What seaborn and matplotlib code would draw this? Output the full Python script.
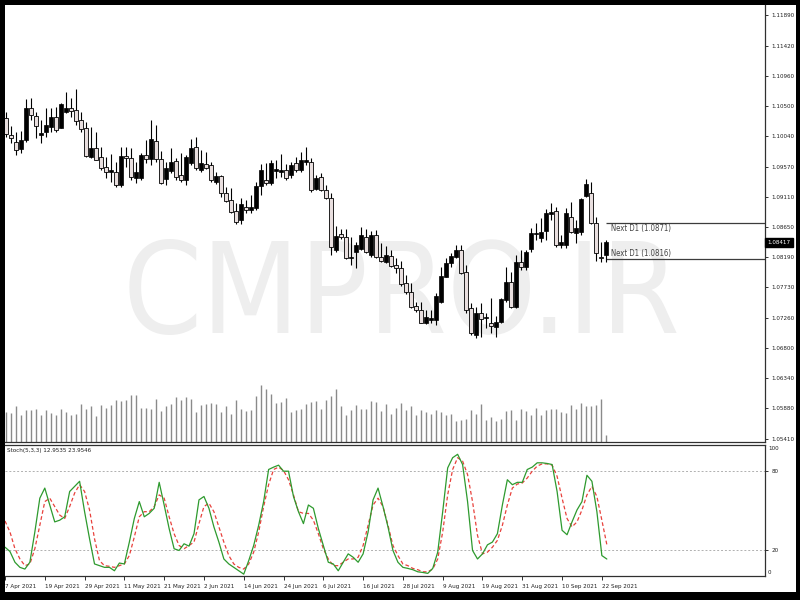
import numpy as np
import pandas as pd
import matplotlib
matplotlib.use("Agg")
import matplotlib.pyplot as plt
import matplotlib.transforms as mtransforms
from matplotlib import font_manager as fm
from matplotlib.patches import Rectangle
import seaborn as sns

# ---------------- data ----------------
opens = [1.1053,1.1032,1.1006,1.0995,1.0984,1.0998,1.1047,1.1035,1.1006,1.1010,
         1.1018,1.1033,1.1016,1.1041,1.1047,1.1044,1.1029,1.1016,1.0972,1.0986,
         1.0972,1.0957,1.0949,1.0949,1.0929,1.0974,1.0971,1.0940,1.0940,1.0975,
         1.0969,1.0996,1.0969,1.0938,1.0951,1.0966,1.0945,1.0937,1.0963,1.0987,
         1.0952,1.0961,1.0960,1.0934,1.0943,1.0917,1.0906,1.0890,1.0876,1.0896,
         1.0891,1.0894,1.0928,1.0937,1.0932,1.0951,1.0949,1.0952,1.0945,1.0963,
         1.0952,1.0964,1.0964,1.0923,1.0941,1.0922,1.0909,1.0830,1.0854,1.0850,
         1.0818,1.0827,1.0831,1.0850,1.0822,1.0853,1.0819,1.0812,1.0821,1.0807,
         1.0802,1.0779,1.0766,1.0744,1.0738,1.0718,1.0723,1.0723,1.0751,1.0789,
         1.0810,1.0819,1.0830,1.0796,1.0741,1.0700,1.0734,1.0726,1.0718,1.0712,
         1.0720,1.0754,1.0781,1.0743,1.0812,1.0804,1.0831,1.0854,1.0848,1.0859,
         1.0885,1.0890,1.0838,1.0838,1.0880,1.0856,1.0857,1.0912,1.0917,1.0871,
         1.0819,1.0822]
highs = [1.1059,1.1041,1.1019,1.1010,1.1012,1.1061,1.1062,1.1041,1.1029,1.1047,
         1.1047,1.1048,1.1055,1.1071,1.1062,1.1076,1.1041,1.1026,1.1018,1.1010,
         1.0987,1.0972,1.0977,1.0964,1.0987,1.0987,1.0986,1.0964,1.0978,1.0998,
         1.1029,1.1021,1.0981,1.0964,1.0986,1.0971,1.0978,1.0975,1.1000,1.1003,
         1.0983,1.0980,1.0964,1.0949,1.0945,1.0926,1.0925,1.0902,1.0909,1.0906,
         1.0914,1.0934,1.0961,1.0963,1.0967,1.0967,1.0977,1.0961,1.0964,1.0972,
         1.0980,1.0987,1.0971,1.0945,1.0948,1.0929,1.0917,1.0867,1.0862,1.0862,
         1.0850,1.0842,1.0865,1.0862,1.0859,1.0861,1.0841,1.0836,1.0830,1.0818,
         1.0813,1.0792,1.0779,1.0751,1.0751,1.0738,1.0738,1.0764,1.0804,1.0818,
         1.0825,1.0838,1.0838,1.0807,1.0749,1.0743,1.0749,1.0734,1.0757,1.0729,
         1.0757,1.0804,1.0796,1.0822,1.0830,1.0830,1.0864,1.0871,1.0879,1.0893,
         1.0902,1.0896,1.0853,1.0894,1.0903,1.0876,1.0909,1.0938,1.0934,1.0880,
         1.0842,1.0845]
lows = [1.1029,1.1003,1.0993,1.0975,1.0978,1.0995,1.1029,1.1001,1.0993,1.1003,
        1.1010,1.1010,1.1016,1.1039,1.1033,1.1021,1.1010,1.0972,1.0971,1.0967,
        1.0952,1.0940,1.0934,1.0926,1.0926,1.0957,1.0937,1.0932,1.0937,1.0963,
        1.0960,1.0964,1.0931,1.0929,1.0948,1.0937,1.0934,1.0929,1.0960,1.0952,
        1.0949,1.0954,1.0934,1.0931,1.0911,1.0903,1.0887,1.0870,1.0870,1.0887,
        1.0887,1.0891,1.0914,1.0929,1.0929,1.0940,1.0941,1.0937,1.0940,1.0949,
        1.0949,1.0960,1.0919,1.0922,1.0920,1.0908,1.0822,1.0827,1.0847,1.0816,
        1.0807,1.0802,1.0830,1.0825,1.0819,1.0818,1.0812,1.0810,1.0804,1.0795,
        1.0775,1.0763,1.0741,1.0735,1.0718,1.0717,1.0718,1.0715,1.0749,1.0789,
        1.0804,1.0818,1.0793,1.0734,1.0700,1.0695,1.0697,1.0711,1.0703,1.0697,
        1.0718,1.0751,1.0741,1.0741,1.0799,1.0799,1.0827,1.0845,1.0842,1.0845,
        1.0876,1.0835,1.0833,1.0833,1.0856,1.0841,1.0853,1.0911,1.0870,1.0813,
        1.0812,1.0812]
closes = [1.1032,1.1007,1.1001,1.0983,1.0998,1.1047,1.1036,1.1019,1.1009,1.1021,
          1.1033,1.1013,1.1053,1.1047,1.1042,1.1027,1.1015,1.0974,1.0986,1.0967,
          1.0955,1.0949,1.0952,1.0929,1.0974,1.0971,1.0941,1.0949,1.0975,1.0969,
          1.1000,1.0969,1.0932,1.0955,1.0964,1.0941,1.0937,1.0972,1.0986,1.0955,
          1.0963,1.0955,1.0937,1.0943,1.0917,1.0905,1.0888,1.0873,1.0900,1.0891,
          1.0896,1.0928,1.0952,1.0932,1.0963,1.0954,1.0952,1.0940,1.0960,1.0952,
          1.0967,1.0967,1.0922,1.0940,1.0922,1.0909,1.0835,1.0851,1.0850,1.0818,
          1.0819,1.0838,1.0853,1.0827,1.0853,1.0819,1.0813,1.0822,1.0805,1.0802,
          1.0778,1.0766,1.0743,1.0738,1.0718,1.0728,1.0726,1.0760,1.0790,1.0810,
          1.0821,1.0830,1.0795,1.0738,1.0703,1.0734,1.0725,1.0728,1.0714,1.0720,
          1.0755,1.0781,1.0743,1.0812,1.0804,1.0827,1.0856,1.0856,1.0857,1.0887,
          1.0888,1.0838,1.0842,1.0887,1.0857,1.0864,1.0908,1.0931,1.0871,1.0825,
          1.0818,1.08417]
volumes = [33, 30, 29, 35.6, 27, 31.6, 31.6, 33, 27, 31.6,
           29, 27, 33, 29.7, 27, 28, 38.3, 33, 35.6, 26,
           37.3, 34, 37.3, 41.6, 40.6, 41.6, 46.6, 47.3, 34.3, 34.3,
           33.3, 43, 30.6, 35.6, 38.3, 45, 41.6, 45, 43, 30,
           37.3, 38.3, 39, 38.3, 30, 36.3, 28.3, 41.6, 33, 30.6,
           31.6, 45.6, 56.6, 53, 48.3, 39, 40, 44, 30, 31.6,
           33.3, 38.3, 40, 40.6, 33, 41.6, 45.6, 53, 36.3, 27,
           31.6, 37.3, 33, 33, 40.6, 39.6, 30.6, 38.3, 28.3, 34,
           39, 32.3, 35.6, 27, 31.6, 30, 28.3, 31.6, 30, 27,
           28.3, 20.6, 21.6, 23.3, 31.6, 28.3, 38.3, 21.6, 25, 20.6,
           23.3, 30.6, 31.6, 21.6, 33.3, 30.6, 27, 34.3, 27, 31.6,
           33, 33.3, 30, 29, 37.3, 33, 39, 35.6, 35.6, 37.3,
           43, 7.3]
stoch_k = [22.0, 18.7, 10.5, 6.6, 5.3, 10.5, 33.6, 59.4, 67.1, 54.2,
           41.3, 42.6, 45.2, 64.5, 68.4, 72.3, 49.1, 28.4, 9.2, 7.9,
           6.6, 6.6, 4.0, 9.9, 9.2, 25.9, 43.9, 56.8, 45.2, 47.8,
           51.7, 71.5, 54.2, 36.2, 20.8, 19.5, 24.6, 22.8, 32.3, 58.1,
           60.7, 51.7, 37.5, 25.9, 13.0, 9.2, 6.6, 4.0, 1.4, 11.7,
           23.3, 38.7, 56.8, 81.3, 83.1, 84.6, 80.0, 80.0, 60.7, 49.1,
           40.0, 54.2, 51.7, 36.2, 23.3, 10.5, 9.2, 4.0, 10.5, 16.9,
           14.3, 10.5, 16.9, 33.6, 58.1, 67.1, 53.0, 37.5, 19.5, 10.5,
           6.6, 5.8, 4.8, 3.2, 2.7, 2.0, 5.8, 18.2, 49.1, 82.5,
           90.3, 92.9, 85.1, 56.8, 19.5, 13.0, 16.9, 23.8, 25.9, 32.3,
           54.2, 73.5, 69.7, 71.5, 71.5, 81.3, 83.1, 86.4, 86.4, 85.9,
           85.1, 64.5, 34.9, 31.5, 41.3, 50.4, 56.8, 76.9, 72.3, 49.1,
           15.6, 12.9535]
stoch_d = [42.0, 33.6, 20.8, 13.0, 7.9, 9.2, 20.8, 38.7, 56.8, 59.4,
           53.0, 46.5, 43.9, 53.0, 63.3, 69.7, 64.5, 50.4, 28.4, 11.7,
           7.9, 7.4, 6.6, 7.9, 9.2, 15.6, 29.8, 45.2, 49.1, 49.1,
           53.0, 61.9, 59.4, 45.2, 32.3, 23.3, 20.8, 23.3, 25.9, 40.0,
           53.0, 55.6, 49.1, 37.5, 25.9, 15.6, 9.2, 6.6, 5.3, 9.2,
           18.2, 33.6, 53.0, 69.7, 81.3, 83.1, 80.5, 73.5, 61.9, 49.1,
           47.8, 47.8, 42.6, 32.3, 20.8, 13.0, 7.9, 7.9, 10.5, 13.0,
           13.0, 14.3, 23.3, 38.7, 54.2, 59.4, 53.0, 38.7, 23.3, 15.6,
           9.2, 7.9, 5.8, 4.8, 3.2, 3.2, 5.3, 13.0, 33.6, 61.9,
           81.3, 90.3, 87.7, 77.4, 56.8, 31.0, 16.9, 18.2, 22.0, 27.2,
           38.7, 54.2, 67.1, 70.2, 71.0, 74.8, 80.0, 83.9, 85.6, 85.6,
           84.6, 76.1, 59.4, 43.9, 37.5, 41.3, 50.4, 61.9, 68.4, 60.7,
           42.6, 23.9546]
date_labels = ["7 Apr 2021", "19 Apr 2021", "29 Apr 2021", "11 May 2021", "21 May 2021",
               "2 Jun 2021", "14 Jun 2021", "24 Jun 2021", "6 Jul 2021", "16 Jul 2021",
               "28 Jul 2021", "9 Aug 2021", "19 Aug 2021", "31 Aug 2021", "10 Sep 2021",
               "22 Sep 2021"]
date_bar_index = [0, 8, 16, 24, 32, 40, 48, 56, 64, 72, 80, 88, 96, 104, 112, 120]
price_ticks = [1.11890, 1.11420, 1.10960, 1.10500, 1.10040, 1.09570, 1.09110, 1.08650,
               1.08190, 1.07730, 1.07260, 1.06800, 1.06340, 1.05880, 1.05410]
next_d1_levels = [1.0871, 1.0816]
current_price = 1.08417
stoch_levels = [80, 20]
stoch_title = "Stoch(5,3,3) 12.9535 23.9546"
watermark = "CMPRO.IR"

# ---------------- fonts ----------------
sns.set_theme(style="white")
plt.rcParams["font.family"] = ["DejaVu Sans"]
cond_path = None
for f in fm.fontManager.ttflist:
    if f.name == "Liberation Sans Narrow" and f.style == "normal" and f.weight in (400, "normal", "regular"):
        cond_path = f.fname
        break
if cond_path is None:
    for f in fm.fontManager.ttflist:
        if (str(f.stretch) in ("condensed", "semi-condensed") or "Condensed" in f.name) \
                and f.style == "normal" and f.weight in (400, "normal", "regular"):
            cond_path = f.fname
            break


def fp(size):
    if cond_path is not None:
        return fm.FontProperties(fname=cond_path, size=size)
    return fm.FontProperties(family=["DejaVu Sans"], size=size * 0.9)


small_fp = fp(4.5)
nd_fp = fp(5.6)
mark_fp = fp(91)

W, H = 800, 600
fig = plt.figure(figsize=(8, 6), dpi=100, facecolor="black")
bg = Rectangle((5 / W, 8 / H), 791 / W, 587 / H, transform=fig.transFigure,
               facecolor="white", edgecolor="none", zorder=-10)
fig.patches.append(bg)

XL = 0.8
XR = XL + 152
axv = fig.add_axes([5 / W, 158 / H, 760 / W, 437 / H], zorder=1)
ax1 = fig.add_axes([5 / W, 158 / H, 760 / W, 437 / H], zorder=2)
ax2 = fig.add_axes([5 / W, 24 / H, 760 / W, 131 / H], zorder=2)
for ax in (ax1, ax2, axv):
    ax.set_facecolor("none")
    ax.set_xlim(XL, XR)
    for s in ("left", "top"):
        ax.spines[s].set_visible(False)
    for s in ("right", "bottom"):
        ax.spines[s].set_color("#303030")
        ax.spines[s].set_linewidth(0.9)
ax2.spines["top"].set_visible(True)
ax2.spines["top"].set_color("#303030")
ax2.spines["top"].set_linewidth(0.9)

df = pd.DataFrame({"bar": np.arange(len(opens)), "open": opens, "high": highs,
                   "low": lows, "close": closes, "volume": volumes,
                   "k": stoch_k, "d": stoch_d})

# watermark + volume (under the candles)
axv.set_ylim(0, 437)
axv.text(0.522, 0.33, watermark, transform=axv.transAxes, ha="center", va="center",
         fontproperties=mark_fp, color="#eeeeee", zorder=0)
axv.vlines(df["bar"], 0, df["volume"], color="#8a8a8a", linewidth=1.0, zorder=1)
axv.set_xticks([])
axv.set_yticks([])
for s in axv.spines.values():
    s.set_visible(False)

# price panel
y_top = 1.1189 + 10 * 0.0001528
y_bot = 1.1189 - 427 * 0.0001528
ax1.set_ylim(y_bot, y_top)
ax1.vlines(df["bar"], df["low"], df["high"], color="black", linewidth=0.8, zorder=3)
up = df["close"] >= df["open"]
body_lo = np.minimum(df["open"], df["close"])
body_h = np.maximum(np.abs(df["close"] - df["open"]), 0.00003)
ax1.bar(df["bar"][up], body_h[up], bottom=body_lo[up], width=0.62, color="black",
        edgecolor="black", linewidth=0.5, zorder=4)
ax1.bar(df["bar"][~up], body_h[~up], bottom=body_lo[~up], width=0.62, color="#e9dfdf",
        edgecolor="black", linewidth=0.6, zorder=4)

# Next D1 levels
for lvl in next_d1_levels:
    ax1.hlines(lvl, 121, XR, color="#3c3c3c", linewidth=0.9, zorder=2)
ax1.text(122, next_d1_levels[0] - 0.00016, f"Next D1 ({next_d1_levels[0]:.4f})",
         fontproperties=nd_fp, color="#444444", va="top", ha="left")
ax1.text(122, next_d1_levels[1] + 0.00016, f"Next D1 ({next_d1_levels[1]:.4f})",
         fontproperties=nd_fp, color="#444444", va="bottom", ha="left")

ax1.yaxis.tick_right()
ax1.set_yticks(price_ticks)
ax1.set_yticklabels([f"{p:.5f}" for p in price_ticks])
ax1.tick_params(axis="y", right=True, direction="out", length=2.5, width=0.7, color="#303030",
                pad=2, labelcolor="#202020")
for lab in ax1.get_yticklabels():
    lab.set_fontproperties(small_fp)
ax1.set_xticks([])
trans1 = mtransforms.blended_transform_factory(ax1.transAxes, ax1.transData)
ax1.text(1.003, current_price, f"{current_price:.5f}", transform=trans1,
         fontproperties=small_fp, color="white", va="center", ha="left", zorder=6,
         bbox=dict(boxstyle="square,pad=0.35", facecolor="black", edgecolor="black"))

# stochastic panel
ax2.set_ylim(0, 100)
for lvl in stoch_levels:
    ax2.axhline(lvl, color="#b0b0b0", linewidth=0.7, linestyle=(0, (2, 2)), zorder=1)
sns.lineplot(data=df, x="bar", y="d", ax=ax2, color="#e8413c", linewidth=0.9,
             linestyle=(0, (3, 2)), zorder=3)
sns.lineplot(data=df, x="bar", y="k", ax=ax2, color="#2e9a2e", linewidth=0.9, zorder=4)
ax2.set_xlim(XL, XR)
ax2.set_xlabel("")
ax2.set_ylabel("")
ax2.yaxis.tick_right()
ax2.set_yticks(stoch_levels)
ax2.set_yticklabels([str(v) for v in stoch_levels])
ax2.tick_params(axis="y", right=True, direction="out", length=2.5, width=0.7, color="#303030",
                pad=2, labelcolor="#202020")
for lab in ax2.get_yticklabels():
    lab.set_fontproperties(small_fp)
trans2 = mtransforms.blended_transform_factory(ax2.transAxes, ax2.transData)
ax2.text(1.004, 99, "100", transform=trans2, fontproperties=small_fp, va="top", ha="left",
         color="#202020")
ax2.text(1.004, 1, "0", transform=trans2, fontproperties=small_fp, va="bottom", ha="left",
         color="#202020")
ax2.text(0.003, 0.975, stoch_title, transform=ax2.transAxes, fontproperties=small_fp,
         va="top", ha="left", color="#202020")

ax2.set_xticks(date_bar_index)
ax2.set_xticklabels(date_labels)
ax2.tick_params(axis="x", bottom=True, direction="out", length=3, width=0.7, color="#303030",
                pad=3, labelcolor="#202020")
for lab in ax2.get_xticklabels():
    lab.set_fontproperties(small_fp)
    lab.set_horizontalalignment("left")

fig.savefig("out.png", dpi=100, facecolor="black")
